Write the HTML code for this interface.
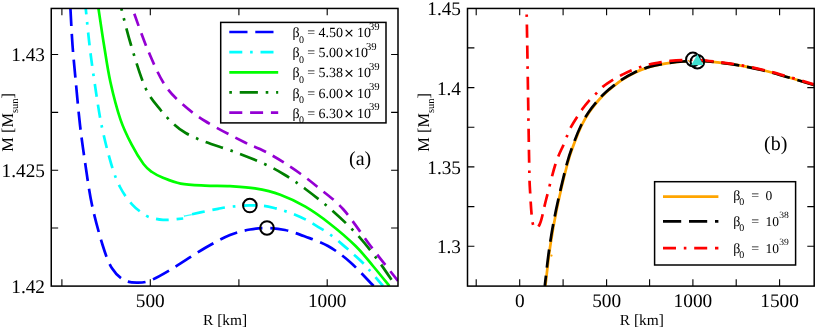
<!DOCTYPE html>
<html><head><meta charset="utf-8"><style>
html,body{margin:0;padding:0;background:#fff;}
text{font-family:"Liberation Serif",serif;text-rendering:geometricPrecision;}

body{width:817px;height:329px;overflow:hidden;position:relative;font-family:"Liberation Serif",serif;}
</style></head><body>
<svg width="817" height="329" viewBox="0 0 817 329" style="position:absolute;left:0;top:0">
<defs><clipPath id="cl"><rect x="51.25" y="8.45" width="346.75" height="277.65"/></clipPath>
<clipPath id="cla"><rect x="51.25" y="8.45" width="131.95" height="277.65"/></clipPath>
<clipPath id="clb"><rect x="184.50" y="8.45" width="213.50" height="277.65"/></clipPath>
<clipPath id="cr"><rect x="467.50" y="8.45" width="346.70" height="277.65"/></clipPath></defs>
<path d="M70.40,8.00 C70.75,14.17 71.60,32.67 72.50,45.00 C73.40,57.33 74.55,68.67 75.80,82.00 C77.05,95.33 78.42,111.33 80.00,125.00 C81.58,138.67 83.30,150.67 85.30,164.00 C87.30,177.33 89.07,191.33 92.00,205.00 C94.93,218.67 99.57,235.45 102.90,246.00 C106.23,256.55 108.48,262.63 112.00,268.30 C115.52,273.97 119.87,277.60 124.00,280.00 C128.13,282.40 132.47,282.60 136.80,282.70 C141.13,282.80 144.47,282.72 150.00,280.60 C155.53,278.48 160.83,275.43 170.00,270.00 C179.17,264.57 195.00,253.83 205.00,248.00 C215.00,242.17 222.50,238.08 230.00,235.00 C237.50,231.92 243.92,230.67 250.00,229.50 C256.08,228.33 260.67,227.92 266.50,228.00 C272.33,228.08 278.58,228.58 285.00,230.00 C291.42,231.42 297.83,233.83 305.00,236.50 C312.17,239.17 320.50,241.75 328.00,246.00 C335.50,250.25 342.40,255.33 350.00,262.00 C357.60,268.67 369.67,282.00 373.60,286.00" fill="none" stroke="#0000ff" stroke-width="2.70" stroke-dasharray="18.20,7.80" stroke-dashoffset="0.16" clip-path="url(#cl)"/>
<path d="M85.70,8.00 C86.33,14.17 88.03,32.67 89.50,45.00 C90.97,57.33 92.50,68.67 94.50,82.00 C96.50,95.33 98.72,111.33 101.50,125.00 C104.28,138.67 108.12,153.67 111.20,164.00 C114.28,174.33 116.53,180.28 120.00,187.00 C123.47,193.72 127.67,199.53 132.00,204.30 C136.33,209.07 142.17,213.22 146.00,215.60 C149.83,217.98 152.17,217.90 155.00,218.60 C157.83,219.30 160.17,219.63 163.00,219.80 C165.83,219.97 168.63,219.82 172.00,219.60 C175.37,219.38 181.33,218.68 183.20,218.50" fill="none" stroke="#00ffff" stroke-width="2.70" stroke-dasharray="13.00,7.80,2.60,7.80,13.00,7.80" stroke-dashoffset="6.58" clip-path="url(#cl)"/>
<path d="M184.00,215.90 C185.33,215.63 188.50,215.05 192.00,214.30 C195.50,213.55 200.67,212.32 205.00,211.40 C209.33,210.48 213.83,209.57 218.00,208.80 C222.17,208.03 224.75,207.37 230.00,206.80 C235.25,206.23 243.90,205.55 249.50,205.40 C255.10,205.25 259.22,205.40 263.60,205.90 C267.98,206.40 272.28,207.55 275.80,208.40 C279.32,209.25 281.75,210.07 284.70,211.00 C287.65,211.93 289.98,212.57 293.50,214.00 C297.02,215.43 301.72,217.47 305.80,219.60 C309.88,221.73 313.87,224.27 318.00,226.80 C322.13,229.33 326.52,231.83 330.60,234.80 C334.68,237.77 338.72,241.40 342.50,244.60 C346.28,247.80 349.88,250.93 353.30,254.00 C356.72,257.07 360.38,260.38 363.00,263.00 C365.62,265.62 365.67,265.87 369.00,269.70 C372.33,273.53 380.67,283.28 383.00,286.00" fill="none" stroke="#00ffff" stroke-width="2.70" stroke-dasharray="13.00,7.80,2.60,7.80,13.00,7.80" stroke-dashoffset="23.04" clip-path="url(#cl)"/>
<path d="M184,216.2 L191.8,214.7" stroke="#00ffff" stroke-width="1.2" opacity="0.8"/>
<path d="M98.40,8.00 C99.33,14.17 102.00,32.67 104.00,45.00 C106.00,57.33 107.65,69.57 110.40,82.00 C113.15,94.43 116.95,109.15 120.50,119.60 C124.05,130.05 127.87,137.30 131.70,144.70 C135.53,152.10 140.12,159.45 143.50,164.00 C146.88,168.55 148.75,169.70 152.00,172.00 C155.25,174.30 158.22,175.87 163.00,177.80 C167.78,179.73 173.70,182.30 180.70,183.60 C187.70,184.90 196.78,185.17 205.00,185.60 C213.22,186.03 221.67,185.73 230.00,186.20 C238.33,186.67 246.62,186.98 255.00,188.40 C263.38,189.82 271.90,191.65 280.30,194.70 C288.70,197.75 297.03,201.78 305.40,206.70 C313.77,211.62 322.13,217.65 330.50,224.20 C338.87,230.75 348.52,239.03 355.60,246.00 C362.68,252.97 367.37,259.33 373.00,266.00 C378.63,272.67 386.67,282.67 389.40,286.00" fill="none" stroke="#00ff00" stroke-width="2.70" clip-path="url(#cl)"/>
<path d="M121.20,8.00 C122.83,14.17 126.95,31.67 131.00,45.00 C135.05,58.33 140.57,77.17 145.50,88.00 C150.43,98.83 155.85,103.95 160.60,110.00 C165.35,116.05 169.82,120.47 174.00,124.30 C178.18,128.13 180.53,130.08 185.70,133.00 C190.87,135.92 196.78,138.63 205.00,141.80 C213.22,144.97 225.08,148.30 235.00,152.00 C244.92,155.70 256.17,160.17 264.50,164.00 C272.83,167.83 278.18,170.83 285.00,175.00 C291.82,179.17 297.82,183.33 305.40,189.00 C312.98,194.67 322.13,201.67 330.50,209.00 C338.87,216.33 347.85,224.67 355.60,233.00 C363.35,241.33 370.32,250.17 377.00,259.00 C383.68,267.83 392.58,281.50 395.70,286.00" fill="none" stroke="#008000" stroke-width="2.70" stroke-dasharray="2.60,7.80,18.20,7.80" stroke-dashoffset="25.74" clip-path="url(#cl)"/>
<path d="M134.30,13.80 C136.42,19.50 142.22,36.63 147.00,48.00 C151.78,59.37 157.50,73.00 163.00,82.00 C168.50,91.00 173.00,95.50 180.00,102.00 C187.00,108.50 194.17,114.25 205.00,121.00 C215.83,127.75 235.83,137.83 245.00,142.50 C254.17,147.17 255.40,146.80 260.00,149.00 C264.60,151.20 268.65,153.47 272.60,155.70 C276.55,157.93 279.00,159.35 283.70,162.40 C288.40,165.45 295.20,169.93 300.80,174.00 C306.40,178.07 310.27,180.97 317.30,186.80 C324.33,192.63 334.12,199.13 343.00,209.00 C351.88,218.87 361.43,234.00 370.60,246.00 C379.77,258.00 393.43,275.17 398.00,281.00" fill="none" stroke="#9400d3" stroke-width="2.70" stroke-dasharray="13.00,7.80" stroke-dashoffset="0.00" clip-path="url(#cl)"/>
<path d="M545.40,286.00 C546.18,279.50 548.23,259.67 550.10,247.00 C551.97,234.33 553.72,223.83 556.60,210.00 C559.48,196.17 564.35,175.42 567.40,164.00 C570.45,152.58 572.53,147.92 574.90,141.50 C577.27,135.08 579.25,130.33 581.60,125.50 C583.95,120.67 586.13,116.75 589.00,112.50 C591.87,108.25 595.87,103.42 598.80,100.00 C601.73,96.58 603.97,94.43 606.60,92.00 C609.23,89.57 611.97,87.47 614.60,85.40 C617.23,83.33 618.98,81.75 622.40,79.60 C625.82,77.45 630.95,74.50 635.10,72.50 C639.25,70.50 643.22,68.92 647.30,67.60 C651.38,66.28 655.52,65.42 659.60,64.60 C663.68,63.78 667.73,63.22 671.80,62.70 C675.87,62.18 679.70,61.85 684.00,61.50 C688.30,61.15 692.00,60.45 697.60,60.60 C703.20,60.75 710.85,61.63 717.60,62.40 C724.35,63.17 730.50,63.88 738.10,65.20 C745.70,66.52 754.83,68.30 763.20,70.30 C771.57,72.30 779.65,74.72 788.30,77.20 C796.95,79.68 810.63,83.87 815.10,85.20" fill="none" stroke="#ffa500" stroke-width="2.70" clip-path="url(#cr)"/>
<path d="M544.80,286.00 C545.58,279.50 547.63,259.67 549.50,247.00 C551.37,234.33 553.12,223.83 556.00,210.00 C558.88,196.17 563.75,175.42 566.80,164.00 C569.85,152.58 571.93,147.92 574.30,141.50 C576.67,135.08 578.65,130.33 581.00,125.50 C583.35,120.67 585.53,116.75 588.40,112.50 C591.27,108.25 595.27,103.42 598.20,100.00 C601.13,96.58 603.37,94.43 606.00,92.00 C608.63,89.57 611.37,87.47 614.00,85.40 C616.63,83.33 618.38,81.75 621.80,79.60 C625.22,77.45 630.35,74.50 634.50,72.50 C638.65,70.50 642.62,68.92 646.70,67.60 C650.78,66.28 654.92,65.42 659.00,64.60 C663.08,63.78 667.13,63.22 671.20,62.70 C675.27,62.18 679.10,61.85 683.40,61.50 C687.70,61.15 691.40,60.45 697.00,60.60 C702.60,60.75 710.25,61.63 717.00,62.40 C723.75,63.17 729.90,63.88 737.50,65.20 C745.10,66.52 754.23,68.30 762.60,70.30 C770.97,72.30 779.05,74.72 787.70,77.20 C796.35,79.68 810.03,83.87 814.50,85.20" fill="none" stroke="#000000" stroke-width="2.70" stroke-dasharray="18.20,7.80" stroke-dashoffset="7.58" clip-path="url(#cr)"/>
<path d="M526.70,14.40 C526.83,22.00 527.23,44.07 527.50,60.00 C527.77,75.93 528.02,92.67 528.30,110.00 C528.58,127.33 528.92,150.67 529.20,164.00 C529.48,177.33 529.37,179.92 530.00,190.00 C530.63,200.08 531.40,218.75 533.00,224.50 C534.60,230.25 537.43,228.58 539.60,224.50 C541.77,220.42 543.35,210.08 546.00,200.00 C548.65,189.92 552.52,173.35 555.50,164.00 C558.48,154.65 561.28,150.12 563.90,143.90 C566.52,137.68 568.15,132.47 571.20,126.70 C574.25,120.93 579.13,113.73 582.20,109.30 C585.27,104.87 587.25,102.75 589.60,100.10 C591.95,97.45 594.07,95.65 596.30,93.40 C598.53,91.15 600.25,88.85 603.00,86.60 C605.75,84.35 609.57,81.90 612.80,79.90 C616.03,77.90 619.20,76.23 622.40,74.60 C625.60,72.97 628.97,71.37 632.00,70.10 C635.03,68.83 637.63,67.97 640.60,67.00 C643.57,66.03 646.33,65.12 649.80,64.30 C653.27,63.48 658.03,62.67 661.40,62.10 C664.77,61.53 666.33,61.25 670.00,60.90 C673.67,60.55 678.90,60.18 683.40,60.00 C687.90,59.82 691.40,59.50 697.00,59.80 C702.60,60.10 710.25,61.00 717.00,61.80 C723.75,62.60 729.90,63.28 737.50,64.60 C745.10,65.92 754.23,67.70 762.60,69.70 C770.97,71.70 779.05,74.12 787.70,76.60 C796.35,79.08 810.03,83.27 814.50,84.60" fill="none" stroke="#ff0000" stroke-width="2.70" stroke-dasharray="13.00,7.80,2.60,7.80,13.00,7.80" stroke-dashoffset="20.80" clip-path="url(#cr)"/>
<circle cx="551.5" cy="255.6" r="1.1" fill="#ffa500"/>
<rect x="51.25" y="8.45" width="346.75" height="277.65" fill="none" stroke="#000" stroke-width="1.5"/>
<path d="M61.90,286.10 v-6.9 M61.90,8.45 v6.9" stroke="#000" stroke-width="1.1"/>
<path d="M150.30,286.10 v-6.9 M150.30,8.45 v6.9" stroke="#000" stroke-width="1.1"/>
<path d="M238.90,286.10 v-6.9 M238.90,8.45 v6.9" stroke="#000" stroke-width="1.1"/>
<path d="M327.20,286.10 v-6.9 M327.20,8.45 v6.9" stroke="#000" stroke-width="1.1"/>
<path d="M51.25,54.50 h6.9 M398.00,54.50 h-6.9" stroke="#000" stroke-width="1.1"/>
<path d="M51.25,112.35 h6.9 M398.00,112.35 h-6.9" stroke="#000" stroke-width="1.1"/>
<path d="M51.25,170.20 h6.9 M398.00,170.20 h-6.9" stroke="#000" stroke-width="1.1"/>
<path d="M51.25,228.05 h6.9 M398.00,228.05 h-6.9" stroke="#000" stroke-width="1.1"/>
<rect x="467.50" y="8.45" width="346.70" height="277.65" fill="none" stroke="#000" stroke-width="1.5"/>
<path d="M476.20,286.10 v-6.9 M476.20,8.45 v6.9" stroke="#000" stroke-width="1.1"/>
<path d="M519.70,286.10 v-6.9 M519.70,8.45 v6.9" stroke="#000" stroke-width="1.1"/>
<path d="M563.10,286.10 v-6.9 M563.10,8.45 v6.9" stroke="#000" stroke-width="1.1"/>
<path d="M606.60,286.10 v-6.9 M606.60,8.45 v6.9" stroke="#000" stroke-width="1.1"/>
<path d="M649.60,286.10 v-6.9 M649.60,8.45 v6.9" stroke="#000" stroke-width="1.1"/>
<path d="M692.90,286.10 v-6.9 M692.90,8.45 v6.9" stroke="#000" stroke-width="1.1"/>
<path d="M736.20,286.10 v-6.9 M736.20,8.45 v6.9" stroke="#000" stroke-width="1.1"/>
<path d="M779.60,286.10 v-6.9 M779.60,8.45 v6.9" stroke="#000" stroke-width="1.1"/>
<path d="M467.50,47.90 h6.9 M814.20,47.90 h-6.9" stroke="#000" stroke-width="1.1"/>
<path d="M467.50,87.60 h6.9 M814.20,87.60 h-6.9" stroke="#000" stroke-width="1.1"/>
<path d="M467.50,127.30 h6.9 M814.20,127.30 h-6.9" stroke="#000" stroke-width="1.1"/>
<path d="M467.50,166.90 h6.9 M814.20,166.90 h-6.9" stroke="#000" stroke-width="1.1"/>
<path d="M467.50,206.60 h6.9 M814.20,206.60 h-6.9" stroke="#000" stroke-width="1.1"/>
<path d="M467.50,246.20 h6.9 M814.20,246.20 h-6.9" stroke="#000" stroke-width="1.1"/>
<circle cx="249.85" cy="205.55" r="6.8" fill="none" stroke="#000" stroke-width="2.0"/>
<circle cx="267.00" cy="227.95" r="6.8" fill="none" stroke="#000" stroke-width="2.0"/>
<circle cx="692.9" cy="59.4" r="6.8" fill="#fff" stroke="#000" stroke-width="2.0"/>
<path d="M688.3,60.2 l1.3,1.6" stroke="#ffa500" stroke-width="1.2"/>
<path d="M690.6,59.0 l1.8,1.6" stroke="#ff0000" stroke-width="1.6"/>
<circle cx="697.4" cy="61.7" r="6.8" fill="none" stroke="#000" stroke-width="2.0"/>
<path d="M697.4,54.2 L703.4,64.9 L691.2,65.2 Z" fill="#40e0d0"/>
<rect x="220.70" y="22.40" width="165.30" height="100.50" fill="#fff" stroke="#000" stroke-width="1.5"/>
<path d="M229.3,32.00 H278.2" stroke="#0000ff" stroke-width="2.70" stroke-dasharray="18.20,7.80"/>
<path d="M229.3,52.15 H278.2" stroke="#00ffff" stroke-width="2.70" stroke-dasharray="13.00,7.80,2.60,7.80,13.00,7.80"/>
<path d="M229.3,72.30 H278.2" stroke="#00ff00" stroke-width="2.70"/>
<path d="M229.3,92.45 H278.2" stroke="#008000" stroke-width="2.70" stroke-dasharray="2.60,7.80,18.20,7.80"/>
<path d="M229.3,112.70 H278.2" stroke="#9400d3" stroke-width="2.70" stroke-dasharray="13.00,7.80"/>
<rect x="654.60" y="181.70" width="141.00" height="83.30" fill="#fff" stroke="#000" stroke-width="1.5"/>
<path d="M663,196.70 H718.4" stroke="#ffa500" stroke-width="2.70"/>
<path d="M663,221.30 H718.4" stroke="#000" stroke-width="2.70" stroke-dasharray="18.20,7.80"/>
<path d="M663,248.10 H718.4" stroke="#ff0000" stroke-width="2.70" stroke-dasharray="13.00,7.80,2.60,7.80,13.00,7.80"/>
<path d="M345.70,29.80 l6.60,6.60 M345.70,36.40 l6.60,-6.60" stroke="#000" stroke-width="1.1" fill="none"/>
<path d="M345.70,49.95 l6.60,6.60 M345.70,56.55 l6.60,-6.60" stroke="#000" stroke-width="1.1" fill="none"/>
<path d="M345.70,70.10 l6.60,6.60 M345.70,76.70 l6.60,-6.60" stroke="#000" stroke-width="1.1" fill="none"/>
<path d="M345.70,90.25 l6.60,6.60 M345.70,96.85 l6.60,-6.60" stroke="#000" stroke-width="1.1" fill="none"/>
<path d="M345.70,110.50 l6.60,6.60 M345.70,117.10 l6.60,-6.60" stroke="#000" stroke-width="1.1" fill="none"/>
<filter id="idf" x="0" y="0" width="817" height="329" filterUnits="userSpaceOnUse"><feOffset dx="0" dy="0"/></filter><g filter="url(#idf)">
<text x="45.00" y="61.40" font-size="19.30" text-anchor="end"  >1.43</text>
<text x="45.00" y="177.10" font-size="19.30" text-anchor="end"  >1.425</text>
<text x="45.00" y="293.00" font-size="19.30" text-anchor="end"  >1.42</text>
<text x="150.30" y="307.00" font-size="19.30" text-anchor="middle"  >500</text>
<text x="327.20" y="307.00" font-size="19.30" text-anchor="middle"  >1000</text>
<text x="461.00" y="15.20" font-size="19.30" text-anchor="end"  >1.45</text>
<text x="461.00" y="94.50" font-size="19.30" text-anchor="end"  >1.4</text>
<text x="461.00" y="173.80" font-size="19.30" text-anchor="end"  >1.35</text>
<text x="461.00" y="253.10" font-size="19.30" text-anchor="end"  >1.3</text>
<text x="519.70" y="307.00" font-size="19.30" text-anchor="middle"  >0</text>
<text x="606.60" y="307.00" font-size="19.30" text-anchor="middle"  >500</text>
<text x="692.90" y="307.00" font-size="19.30" text-anchor="middle"  >1000</text>
<text x="779.60" y="307.00" font-size="19.30" text-anchor="middle"  >1500</text>
<text x="225.10" y="325.00" font-size="15.40" text-anchor="middle"  >R [km]</text>
<text x="641.80" y="325.10" font-size="15.40" text-anchor="middle"  >R [km]</text>
<text transform="translate(12.50,122.30) rotate(-90)" font-size="16.4" text-anchor="middle">M [M<tspan font-size="10.5" dy="5.3">sun</tspan><tspan dy="-5.3">]</tspan></text>
<text transform="translate(428.70,122.30) rotate(-90)" font-size="16.4" text-anchor="middle">M [M<tspan font-size="10.5" dy="5.3">sun</tspan><tspan dy="-5.3">]</tspan></text>
<text x="349.00" y="165.00" font-size="20.00" text-anchor="start"  >(a)</text>
<text x="764.00" y="150.00" font-size="20.00" text-anchor="start"  >(b)</text>
<text x="292.50" y="37.10" font-size="14.00" text-anchor="start"  >β</text>
<text x="298.90" y="42.60" font-size="10.00" text-anchor="start"  >0</text>
<text x="307.30" y="37.10" font-size="14.00" text-anchor="start"  >=</text>
<text x="318.50" y="37.10" font-size="14.00" text-anchor="start"  >4.50</text>
<text x="356.90" y="37.10" font-size="14.00" text-anchor="start"  >10</text>
<text x="369.00" y="29.60" font-size="10.70" text-anchor="start"  >39</text>
<text x="292.50" y="57.25" font-size="14.00" text-anchor="start"  >β</text>
<text x="298.90" y="62.75" font-size="10.00" text-anchor="start"  >0</text>
<text x="307.30" y="57.25" font-size="14.00" text-anchor="start"  >=</text>
<text x="318.50" y="57.25" font-size="14.00" text-anchor="start"  >5.00</text>
<text x="353.90" y="57.25" font-size="14.00" text-anchor="start"  >10</text>
<text x="366.00" y="49.75" font-size="10.70" text-anchor="start"  >39</text>
<text x="292.50" y="77.40" font-size="14.00" text-anchor="start"  >β</text>
<text x="298.90" y="82.90" font-size="10.00" text-anchor="start"  >0</text>
<text x="307.30" y="77.40" font-size="14.00" text-anchor="start"  >=</text>
<text x="318.50" y="77.40" font-size="14.00" text-anchor="start"  >5.38</text>
<text x="356.90" y="77.40" font-size="14.00" text-anchor="start"  >10</text>
<text x="369.00" y="69.90" font-size="10.70" text-anchor="start"  >39</text>
<text x="292.50" y="97.55" font-size="14.00" text-anchor="start"  >β</text>
<text x="298.90" y="103.05" font-size="10.00" text-anchor="start"  >0</text>
<text x="307.30" y="97.55" font-size="14.00" text-anchor="start"  >=</text>
<text x="318.50" y="97.55" font-size="14.00" text-anchor="start"  >6.00</text>
<text x="356.90" y="97.55" font-size="14.00" text-anchor="start"  >10</text>
<text x="369.00" y="90.05" font-size="10.70" text-anchor="start"  >39</text>
<text x="292.50" y="117.80" font-size="14.00" text-anchor="start"  >β</text>
<text x="298.90" y="123.30" font-size="10.00" text-anchor="start"  >0</text>
<text x="307.30" y="117.80" font-size="14.00" text-anchor="start"  >=</text>
<text x="318.50" y="117.80" font-size="14.00" text-anchor="start"  >6.30</text>
<text x="356.90" y="117.80" font-size="14.00" text-anchor="start"  >10</text>
<text x="369.00" y="110.30" font-size="10.70" text-anchor="start"  >39</text>
<text x="733.20" y="199.70" font-size="14.00" text-anchor="start"  >β</text>
<text x="739.20" y="205.10" font-size="10.00" text-anchor="start"  >0</text>
<text x="751.20" y="199.70" font-size="14.00" text-anchor="start"  >=</text>
<text x="765.60" y="199.70" font-size="13.50" text-anchor="start"  >0</text>
<text x="733.20" y="226.00" font-size="14.00" text-anchor="start"  >β</text>
<text x="739.20" y="231.40" font-size="10.00" text-anchor="start"  >0</text>
<text x="751.20" y="226.00" font-size="14.00" text-anchor="start"  >=</text>
<text x="765.60" y="226.00" font-size="13.50" text-anchor="start"  >10</text>
<text x="779.30" y="218.40" font-size="9.60" text-anchor="start"  >38</text>
<text x="733.20" y="252.70" font-size="14.00" text-anchor="start"  >β</text>
<text x="739.20" y="258.10" font-size="10.00" text-anchor="start"  >0</text>
<text x="751.20" y="252.70" font-size="14.00" text-anchor="start"  >=</text>
<text x="765.60" y="252.70" font-size="13.50" text-anchor="start"  >10</text>
<text x="779.30" y="245.10" font-size="9.60" text-anchor="start"  >39</text>
</g>
</svg>
</body></html>
